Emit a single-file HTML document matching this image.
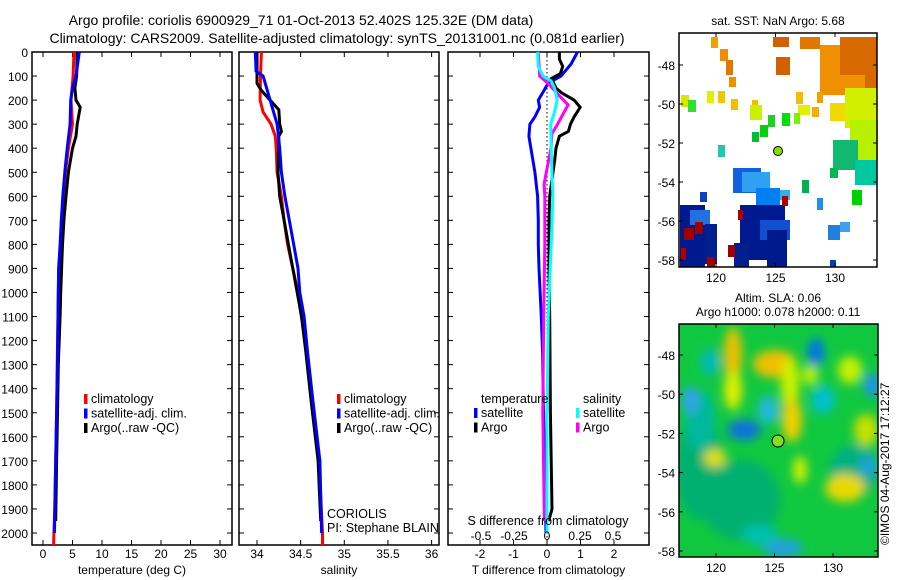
<!DOCTYPE html>
<html><head><meta charset="utf-8"><style>
body{margin:0;background:#fff;}
svg{display:block;font-family:"Liberation Sans",sans-serif;}
text{fill:#000;}
</style></head><body>
<svg id="chart" width="900" height="580" viewBox="0 0 900 580">
<defs>
<filter id="blur" x="-50%" y="-50%" width="200%" height="200%"><feGaussianBlur stdDeviation="5"/></filter>
<clipPath id="clipB"><rect x="679" y="324" width="199" height="233"/></clipPath>
</defs>
<text x="301" y="25" font-size="14" text-anchor="middle">Argo profile: coriolis 6900929_71 01-Oct-2013 52.402S 125.32E (DM data)</text>
<text x="337" y="43" font-size="14" text-anchor="middle">Climatology: CARS2009. Satellite-adjusted climatology: synTS_20131001.nc (0.081d earlier)</text>
<g id="g1"></g>
<g id="g2"></g>
<g id="g3"></g>
<g id="mapTop"></g>
<g id="mapBot"></g>
<text transform="translate(889,545) rotate(-90)" font-size="12">©IMOS 04-Aug-2017 17:12:27</text>
</svg>
<script>
const NS='http://www.w3.org/2000/svg';
// ---- data ----
const depthTicks=[0,100,200,300,400,500,600,700,800,900,1000,1100,1200,1300,1400,1500,1600,1700,1800,1900,2000];
const tempTicks=[0,5,10,15,20,25,30];
const salTicks=[34,34.5,35,35.5,36];
const tdTicks=[-2,-1,0,1,2];
const sdTicks=[-0.5,-0.25,0,0.25,0.5];
const tempClimDepth=[0,100,200,300,400,500,600,700,800,900,1000,1100,1300,1500,1700,1900,2000,2050];
const tempClim=[5.25,5.1,4.75,5.0,4.3,3.8,3.45,3.15,2.95,2.7,2.6,2.55,2.4,2.3,2.15,2.0,1.85,1.8];
const tempSatDepth=[0,100,150,200,300,400,500,600,700,800,900,1000,1100,1300,1500,1700,1900,2000];
const tempSat=[6.15,5.6,5.0,4.7,4.6,4.1,3.7,3.35,3.1,2.9,2.65,2.6,2.55,2.45,2.3,2.15,2.0,1.95];
const tempArgoDepth=[0,100,150,200,230,300,350,400,500,600,700,800,900,1000,1100,1300,1500,1700,1950];
const tempArgo=[5.8,5.7,5.4,5.6,6.3,5.8,5.6,5.0,4.3,3.9,3.55,3.3,3.15,3.0,2.9,2.6,2.45,2.3,2.15];
const salClimDepth=[0,100,200,250,300,350,400,500,600,700,800,900,1000,1100,1250,1450,1700,2000,2050];
const salClim=[34.05,34.04,34.035,34.07,34.16,34.21,34.22,34.23,34.28,34.31,34.35,34.41,34.47,34.51,34.57,34.63,34.71,34.75,34.75];
const salSatDepth=[0,80,100,150,200,300,400,500,600,700,800,900,1000,1100,1250,1450,1700,2000];
const salSat=[33.98,33.99,34.07,34.11,34.15,34.23,34.26,34.28,34.32,34.37,34.42,34.47,34.49,34.54,34.58,34.64,34.72,34.74];
const salArgoDepth=[0,100,130,160,200,240,300,330,350,500,600,700,800,900,1000,1100,1250,1450,1700,1950];
const salArgo=[34.0,34.0,34.0,34.05,34.15,34.25,34.26,34.28,34.25,34.24,34.26,34.31,34.36,34.41,34.46,34.51,34.56,34.62,34.7,34.73];
const tdSatDepth=[0,50,100,130,160,200,230,270,300,350,400,500,600,700,800,900,1100,1250,1450,1650,2000];
const tdSat=[0.91,0.72,0.42,0.03,-0.09,-0.26,-0.22,-0.36,-0.51,-0.54,-0.48,-0.36,-0.28,-0.26,-0.26,-0.24,-0.17,-0.13,-0.11,-0.08,-0.03];
const tdArgoDepth=[0,30,60,90,110,150,170,200,230,270,300,330,350,400,450,500,600,700,900,1100,1500,1900,1950];
const tdArgo=[0.37,0.37,0.47,0.4,0.13,0.27,0.44,0.81,0.99,0.81,0.7,0.64,0.37,0.27,0.23,0.18,0.08,0.06,0.06,0.08,0.1,0.15,0.05];
const sdSatDepth=[0,60,100,120,150,200,250,300,400,500,600,800,1100,1500,2000];
const sdSat=[-0.072,-0.067,-0.03,0.032,0.057,0.077,0.057,0.028,0.032,0.037,0.045,0.032,0.01,0.0,0.0];
const sdArgoDepth=[0,60,100,130,160,190,220,260,300,340,400,500,550,600,800,1100,1500,1950];
const sdArgo=[-0.067,-0.06,-0.055,0.007,0.057,0.107,0.16,0.12,0.08,0.037,0.03,-0.005,-0.022,-0.017,-0.017,-0.025,-0.032,-0.02];
const latTicks=[-48,-50,-52,-54,-56,-58];
const lonTicks=[120,125,130];

// ---- scales ----
const TOP=52,BOT=545;
const yD=d=>TOP+d*0.2405;
const xT=t=>43+t*5.9;
const xS=s=>257+(s-34)*87.3;
const xTD=v=>547+v*33.5;
const xSD=v=>547+v*132;
function el(tag,attrs,parent,txt){const e=document.createElementNS(NS,tag);for(const k in attrs)e.setAttribute(k,attrs[k]);if(txt!==undefined)e.textContent=txt;parent.appendChild(e);return e;}
function line(p,name,depths,vals,fx,col){
  const pts=depths.map((d,i)=>fx(vals[i]).toFixed(1)+','+yD(d).toFixed(1)).join(' ');
  const e=el('polyline',{points:pts,fill:'none',stroke:col,'stroke-width':3,'stroke-linejoin':'miter'},p);
  
  
}
function frame(p,x0,x1,xticks,fx,fmt,title,showY){
  const f=el('rect',{x:x0,y:TOP,width:x1-x0,height:BOT-TOP,fill:'none',stroke:'#000','stroke-width':1.5},p);
  
  
  depthTicks.forEach(d=>{
    el('line',{x1:x0,x2:x0+5,y1:yD(d),y2:yD(d),stroke:'#000'},p);
    el('line',{x1:x1-5,x2:x1,y1:yD(d),y2:yD(d),stroke:'#000'},p);
    if(showY){const t=el('text',{x:x0-4,y:yD(d)+5,'font-size':12,'text-anchor':'end'},p,String(d));
      
      }
  });
  xticks.forEach(v=>{const x=fx(v);
    el('line',{x1:x,x2:x,y1:TOP,y2:TOP+5,stroke:'#000'},p);
    el('line',{x1:x,x2:x,y1:BOT-5,y2:BOT,stroke:'#000'},p);
    const t=el('text',{x:x,y:BOT+13,'font-size':12,'text-anchor':'middle'},p,fmt(v));
    
    
  });
  const tt=el('text',{x:(x0+x1)/2,y:BOT+29,'font-size':12,'text-anchor':'middle'},p,title);
  
  
}
function legend(p,x,y,items){
  items.forEach((it,i)=>{
    el('rect',{x:x,y:y+i*14.5-9,width:3.5,height:10,fill:it[1]},p);
    const t=el('text',{x:x+7,y:y+i*14.5,'font-size':12.5},p,it[0]);
    
    
  });
}
// panel 1
const g1=document.getElementById('g1');
frame(g1,32,232,tempTicks,xT,String,'temperature (deg C)',true);
line(g1,'temp-climatology-line',tempClimDepth,tempClim,xT,'#f00');
line(g1,'temp-argo-line',tempArgoDepth,tempArgo,xT,'#000');
line(g1,'temp-satellite-line',tempSatDepth,tempSat,xT,'#00f');
legend(g1,84,403,[['climatology','#f00'],['satellite-adj. clim.','#00f'],['Argo(..raw -QC)','#000']]);
// panel 2
const g2=document.getElementById('g2');
frame(g2,239,439,salTicks,xS,String,'salinity',false);
line(g2,'sal-climatology-line',salClimDepth,salClim,xS,'#f00');
line(g2,'sal-argo-line',salArgoDepth,salArgo,xS,'#000');
line(g2,'sal-satellite-line',salSatDepth,salSat,xS,'#00f');
legend(g2,337,403,[['climatology','#f00'],['satellite-adj. clim.','#00f'],['Argo(..raw -QC)','#000']]);
el('text',{x:327,y:518,'font-size':12.5},g2,'CORIOLIS');
el('text',{x:327,y:532,'font-size':12.5},g2,'PI: Stephane BLAIN');
// panel 3
const g3=document.getElementById('g3');
frame(g3,448,649,tdTicks,xTD,String,'T difference from climatology',false);
el('line',{x1:xTD(0),x2:xTD(0),y1:TOP,y2:BOT,stroke:'#000','stroke-dasharray':'1.5,2.5'},g3);
line(g3,'tdiff-satellite-line',tdSatDepth,tdSat,xTD,'#00f');
line(g3,'tdiff-argo-line',tdArgoDepth,tdArgo,xTD,'#000');
line(g3,'sdiff-argo-line',sdArgoDepth,sdArgo,xSD,'#f0f');
line(g3,'sdiff-satellite-line',sdSatDepth,sdSat,xSD,'#0ff');
el('text',{x:481,y:403,'font-size':12.5},g3,'temperature');
el('text',{x:583,y:403,'font-size':12.5},g3,'salinity');
legend(g3,474,417,[['satellite','#00f'],['Argo','#000']]);
legend(g3,576,417,[['satellite','#0ff'],['Argo','#f0f']]);
el('text',{x:548,y:525,'font-size':12.5,'text-anchor':'middle'},g3,'S difference from climatology');
sdTicks.forEach(v=>{const t=el('text',{x:xSD(v),y:540,'font-size':12,'text-anchor':'middle'},g3,String(v));
  
  });

// maps
function mapAxes(p,x0,y0,x1,y1,latY,lonX){
  el('rect',{x:x0,y:y0,width:x1-x0,height:y1-y0,fill:'none',stroke:'#000','stroke-width':1.5},p);
  latTicks.forEach(l=>{const y=latY(l);
    el('line',{x1:x0,x2:x0+4,y1:y,y2:y,stroke:'#000'},p);el('line',{x1:x1-4,x2:x1,y1:y,y2:y,stroke:'#000'},p);
    el('text',{x:x0-4,y:y+5,'font-size':12,'text-anchor':'end'},p,String(l));});
  lonTicks.forEach(l=>{const x=lonX(l);
    el('line',{x1:x,x2:x,y1:y0,y2:y0+4,stroke:'#000'},p);el('line',{x1:x,x2:x,y1:y1-4,y2:y1,stroke:'#000'},p);
    el('text',{x:x,y:y1+15,'font-size':12,'text-anchor':'middle'},p,String(l));});
}
const mt=document.getElementById('mapTop');
const blocks=[[711,37,7,11,'#f0a000'],[720,49,8,12,'#f08c00'],[726,60,7,15,'#e07800'],[729,77,7,10,'#f09000'],
[773,37,16,10,'#d06000'],[776,57,14,18,'#d06000'],[800,37,20,12,'#e07800'],[820,45,20,50,'#f09000'],[840,37,37,55,'#d86800'],[835,75,30,20,'#f09000'],
[681,95,8,12,'#d8e800'],[707,91,7,12,'#e0f000'],[718,91,7,12,'#f0c800'],[731,99,7,11,'#f0c000'],[752,100,6,11,'#f0c000'],[750,105,12,15,'#c8f000'],
[796,92,7,12,'#f0c000'],[798,105,12,10,'#e0f000'],[812,107,7,10,'#f0b000'],[817,92,6,11,'#f0a000'],[830,103,16,18,'#f0d800'],[845,88,32,40,'#d0f000'],[850,120,28,40,'#b8f000'],
[688,100,8,12,'#30e030'],[768,115,7,12,'#20d020'],[782,113,8,13,'#00e000'],[760,125,8,12,'#00d010'],[752,132,7,10,'#00c030'],[794,113,6,11,'#80f000'],
[718,145,7,12,'#20c8b0'],[833,140,25,30,'#10b870'],[855,160,22,25,'#00c8a0'],[852,190,10,15,'#00d000'],[802,180,7,13,'#00b050'],[830,168,8,10,'#00b850'],
[733,168,28,25,'#1060e0'],[742,172,28,20,'#30a0f0'],[700,192,7,10,'#1040c0'],[756,188,24,20,'#0080f0'],[780,190,10,10,'#30b0f0'],[817,198,6,12,'#2090f0'],
[680,205,25,62,'#001890'],[690,210,20,15,'#2070e0'],[705,224,12,40,'#002090'],[740,205,45,55,'#001890'],[760,220,30,20,'#1050d0'],[840,222,10,10,'#40a0f0'],[828,225,12,15,'#2080e0'],
[734,243,15,24,'#002090'],[767,230,20,37,'#001a8c'],[684,228,10,12,'#a00000'],[695,222,8,12,'#a00000'],[738,210,5,10,'#b00000'],[707,257,8,10,'#a00000'],[728,245,7,12,'#a00000'],[782,196,6,10,'#b00000'],[681,248,5,12,'#b00000'],[830,260,6,7,'#0040c0']];
blocks.forEach(b=>el('rect',{x:b[0],y:b[1],width:b[2],height:b[3],fill:b[4]},mt));
el('circle',{cx:778,cy:151,r:4.5,fill:'#80e000',stroke:'#000'},mt);
mapAxes(mt,679,33,877,267,l=>65+(-48-l)*19.5,l=>716+(l-120)*11.9);
el('text',{x:778,y:25,'font-size':12,'text-anchor':'middle'},mt,'sat. SST: NaN Argo: 5.68');
el('text',{x:778,y:302,'font-size':12,'text-anchor':'middle'},mt,'Altim. SLA: 0.06');
el('text',{x:778,y:316,'font-size':12,'text-anchor':'middle'},mt,'Argo h1000: 0.078 h2000: 0.11');

const mb=document.getElementById('mapBot');
const cb=el('g',{'clip-path':'url(#clipB)'},mb);
el('rect',{x:679,y:324,width:199,height:233,fill:'#10c840'},cb);
const fg=el('g',{filter:'url(#blur)'},cb);
const blobs=[[700,470,25,50,'#00b070'],[740,500,40,40,'#00b070'],[700,420,15,30,'#00b8a0'],[855,470,25,25,'#00b080'],
[690,400,8,14,'#30a0f0'],[733,355,9,28,'#f0c000'],[733,390,9,20,'#e0f000'],[775,364,22,14,'#f0c000'],[790,385,9,28,'#d0f000'],[792,420,10,22,'#f0d000'],
[810,375,8,10,'#c0f000'],[715,458,11,9,'#e0e000'],[744,430,17,10,'#1070e0'],[768,410,10,14,'#20b8e0'],[710,362,9,13,'#00b8c0'],
[816,352,8,14,'#0070f0'],[872,385,8,12,'#2090f0'],[845,488,20,14,'#e8d800'],[866,430,12,16,'#c8e000'],[823,400,12,14,'#00c0d0'],
[850,370,12,14,'#c8f000'],[868,466,8,10,'#20a0e0'],[783,548,20,9,'#20a0e0'],[800,470,7,14,'#d0f000'],[760,535,18,10,'#00c0b0']];
blobs.forEach(b=>el('ellipse',{cx:b[0],cy:b[1],rx:b[2],ry:b[3],fill:b[4]},fg));
el('circle',{cx:778,cy:441,r:6,fill:'#80e020',stroke:'#000'},mb);
mapAxes(mb,679,324,878,557,l=>355+(-48-l)*19.6,l=>716+(l-120)*11.7);
</script>
</body></html>
